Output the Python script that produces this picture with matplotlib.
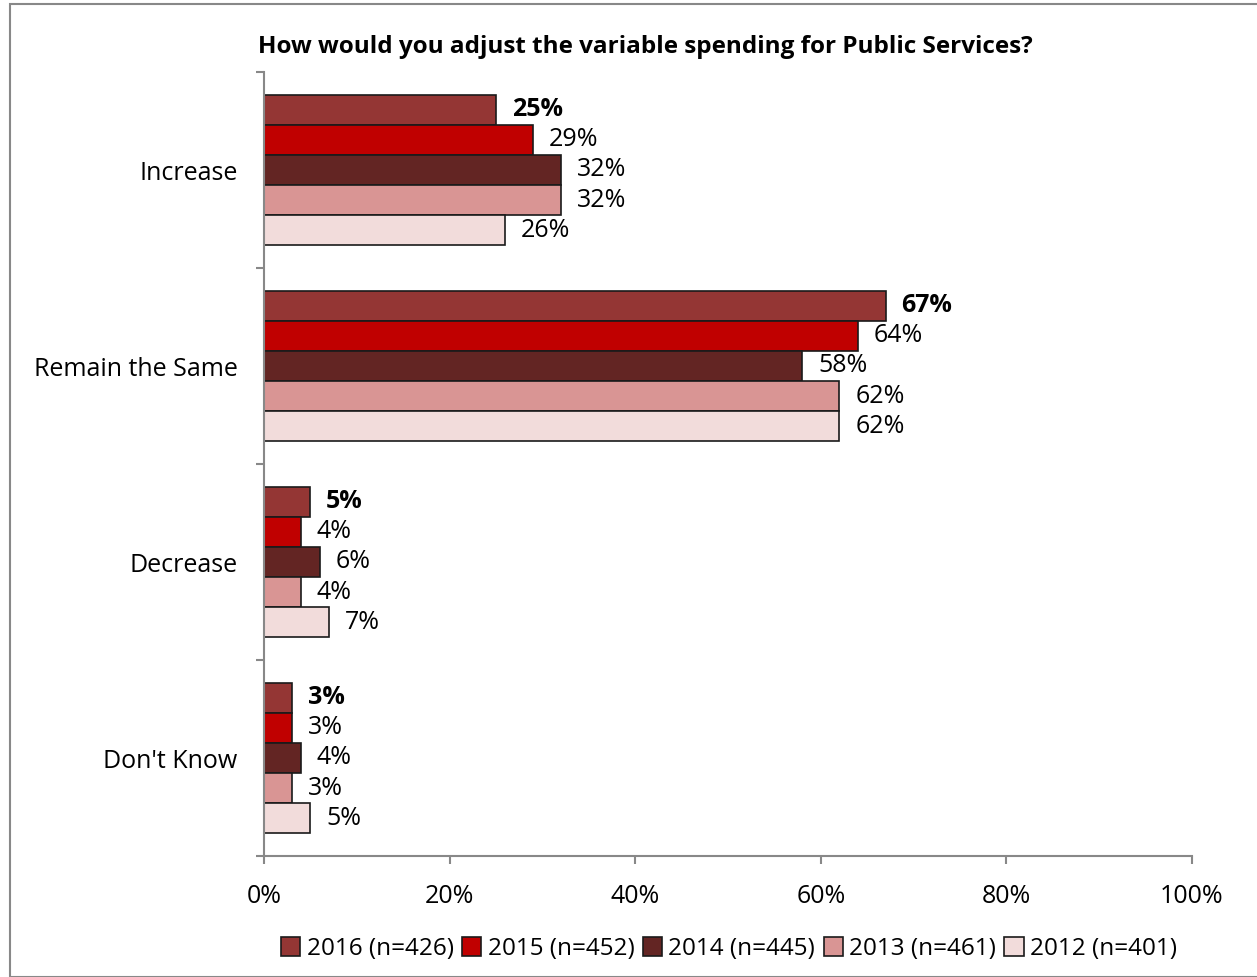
import matplotlib.pyplot as plt
from matplotlib.patches import Rectangle
from matplotlib.ticker import FuncFormatter

plt.rcParams['font.family'] = ['Open Sans', 'DejaVu Sans']

categories = ["Increase", "Remain the Same", "Decrease", "Don't Know"]
series = ["2016 (n=426)", "2015 (n=452)", "2014 (n=445)", "2013 (n=461)", "2012 (n=401)"]
colors = ["#943634", "#C00000", "#632523", "#D99594", "#F2DCDB"]
values = [
    [25, 67, 5, 3],
    [29, 64, 4, 3],
    [32, 58, 6, 4],
    [32, 62, 4, 3],
    [26, 62, 7, 5],
]

fig = plt.figure(figsize=(12.57, 9.77), dpi=100)
fig.patches.append(Rectangle((10 / 1257, 0), 1.0, 1 - 4 / 977, transform=fig.transFigure,
                             fill=False, edgecolor="#888888", linewidth=1.5))
ax = fig.add_axes([264 / 1257, 1 - 856 / 977, (1192 - 264) / 1257, (856 - 72) / 977])

bar_h = 0.154
n = len(series)
for i, (name, col, vals) in enumerate(zip(series, colors, values)):
    ys = [k - (n / 2 - 0.5 - i) * bar_h for k in range(len(categories))]
    ax.barh(ys, vals, height=bar_h, color=col, edgecolor="#1a1a1a", linewidth=1.2, label=name)
    for y, v in zip(ys, vals):
        ax.text(v + 1.7, y, f"{v}%", va="center", ha="left", fontsize=18,
                fontweight="bold" if i == 0 else "normal")

ax.set_xlim(0, 100)
ax.set_ylim(len(categories) - 0.5, -0.5)
ax.set_xticks(range(0, 101, 20))
ax.xaxis.set_major_formatter(FuncFormatter(lambda x, _: f"{x:.0f}%"))
ax.set_yticks(range(len(categories)))
ax.set_yticklabels(categories)
ax.set_yticks([k - 0.5 for k in range(len(categories) + 1)], minor=True)
ax.tick_params(axis="y", which="major", length=0, pad=19, labelsize=18)
ax.tick_params(axis="y", which="minor", length=6, color="#888888", width=1.5)
ax.tick_params(axis="x", length=6, color="#888888", width=1.5, pad=14, labelsize=18)
for s in ["top", "right"]:
    ax.spines[s].set_visible(False)
for s in ["left", "bottom"]:
    ax.spines[s].set_color("#888888")
    ax.spines[s].set_linewidth(1.5)

fig.text(645 / 1257, 1 - 47 / 977, "How would you adjust the variable spending for Public Services?",
         ha="center", va="center", fontsize=17.5, fontweight="bold")

handles, labels = ax.get_legend_handles_labels()
fig.legend(handles, labels, loc="center", bbox_to_anchor=(729 / 1257, 1 - 949 / 977), ncol=5,
           frameon=False, fontsize=17.5, handlelength=0.8, handleheight=0.8, handletextpad=0.25,
           columnspacing=0.35)

fig.savefig("out.png", dpi=100)
